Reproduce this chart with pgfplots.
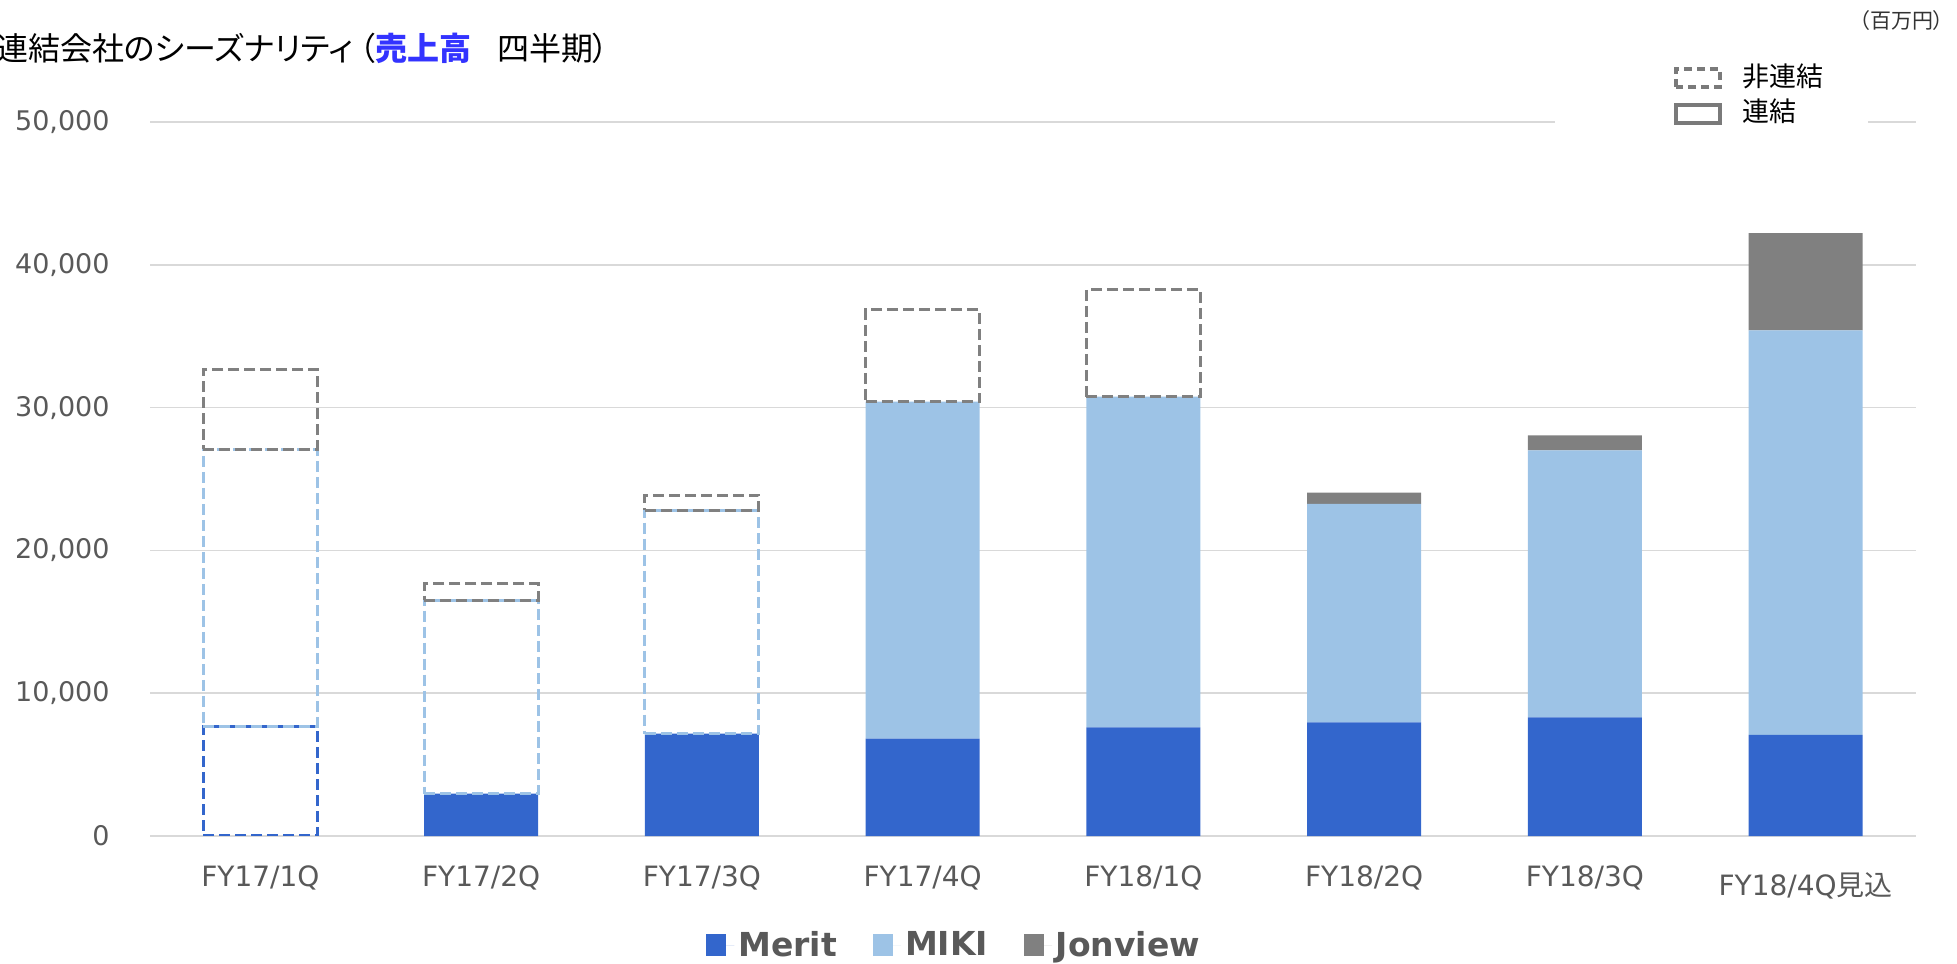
\documentclass[border=0pt]{standalone}
\usepackage{fontspec}
\setmainfont{DejaVu Sans}
\newfontfamily\jp[RawFeature=+palt]{Noto Sans CJK JP}
\usepackage{pgfplots}
\pgfplotsset{compat=1.18}

\definecolor{merit}{HTML}{3366CC}
\definecolor{miki}{HTML}{9DC3E6}
\definecolor{jonview}{HTML}{808080}
\definecolor{gridc}{HTML}{D9D9D9}
\definecolor{txt}{HTML}{595959}
\definecolor{ttlblue}{HTML}{3333FF}
\definecolor{keyc}{HTML}{7A7A7A}

% same frame for the main axis and the overlays with the dashed (non-consolidated) parts
\pgfplotsset{
  frame/.style={scale only axis, width=883pt, height=357pt,
    at={(75pt,63.5pt)}, anchor=south west,
    xmin=-0.5, xmax=7.5, ymin=0, ymax=50000,
    ybar stacked, bar width=57pt},
  dash box/.style={draw=#1, fill=none, line width=1.5pt, dash pattern=on 5.5pt off 2.5pt},
  hidden/.style={draw=none, fill=none},
  sq legend/.style={legend image code/.code={\path (0pt,0pt) -- (14pt,0pt); \fill[##1] (0pt,-5.5pt) rectangle (10pt,5.5pt);}},
}

\begin{document}
\begin{tikzpicture}
\useasboundingbox (0,0) rectangle (978.5pt,481.5pt);

\begin{axis}[frame,
  axis line style={draw=none},
  tick style={draw=none},
  ymajorgrids, grid style={gridc, line width=0.8pt},
  ytick={0,10000,20000,30000,40000,50000},
  scaled y ticks=false,
  /pgf/number format/.cd, 1000 sep={,}, assume math mode=true, /pgfplots/.cd,
  yticklabel style={anchor=east, inner sep=0pt, xshift=-20pt, text=txt, font=\fontsize{13.5}{16}\selectfont},
  xtick={0,...,7},
  xticklabels={FY17/1Q,FY17/2Q,FY17/3Q,FY17/4Q,FY18/1Q,FY18/2Q,FY18/3Q,\raisebox{-4.5pt}{FY18/4Q{\jp 見込}}},
  xticklabel style={anchor=base, inner sep=0pt, yshift=-25pt, text=txt, font=\fontsize{14}{16}\selectfont},
  legend columns=3,
  legend style={at={(0.456,-0.153)}, anchor=center, draw=none,
    font=\fontsize{16.5}{20}\selectfont\bfseries, text=txt,
    /tikz/every even column/.append style={column sep=16pt}},
]
% consolidated (solid) parts; 0 where the part was not yet consolidated
\addplot[fill=merit, draw=none, sq legend] coordinates {(0,0)(1,2970)(2,7170)(3,6820)(4,7600)(5,7950)(6,8300)(7,7080)};
\addplot[fill=miki, draw=none, sq legend] coordinates {(0,0)(1,0)(2,0)(3,23600)(4,23170)(5,15300)(6,18710)(7,28320)};
\addplot[fill=jonview, draw=none, sq legend] coordinates {(0,0)(1,0)(2,0)(3,0)(4,0)(5,790)(6,1050)(7,6820)};
\legend{Merit,MIKI,Jonview}
\end{axis}

% non-consolidated Merit
\begin{axis}[frame, hide axis]
\addplot[dash box=merit] coordinates {(0,7700)};
\end{axis}

% non-consolidated MIKI
\begin{axis}[frame, hide axis]
\addplot[hidden] coordinates {(0,7700)(1,2970)(2,7170)};
\addplot[dash box=miki] coordinates {(0,19400)(1,13550)(2,15650)};
\end{axis}

% non-consolidated Jonview
\begin{axis}[frame, hide axis]
\addplot[hidden] coordinates {(0,7700)(1,2970)(2,7170)(3,6820)(4,7600)};
\addplot[hidden] coordinates {(0,19400)(1,13550)(2,15650)(3,23600)(4,23170)};
\addplot[dash box=jonview] coordinates {(0,5600)(1,1140)(2,1040)(3,6470)(4,7520)};
\end{axis}

% title and unit
\node[anchor=west, inner sep=0pt, font=\jp\fontsize{16}{19}\selectfont] at (-2pt,457.5pt)
  {連結会社のシーズナリティ\hspace{0.2em}（{\color{ttlblue}\bfseries 売上高}\hspace{0.8em}四半期）};
\node[anchor=east, inner sep=0pt, text=black!80, font=\jp\fontsize{10.5}{12}\selectfont] at (972pt,471pt) {（百万円）};

% key for dashed / solid outline
\fill[white] (777.5pt,413pt) rectangle (934pt,452pt);
\draw[keyc, line width=1.6pt, dash pattern=on 4pt off 2.5pt] (838pt,438pt) rectangle (860pt,447pt);
\draw[keyc, line width=1.6pt] (838pt,420pt) rectangle (860pt,429pt);
\node[anchor=west, inner sep=0pt, font=\jp\fontsize{13.5}{16}\selectfont] at (871pt,443.3pt) {非連結};
\node[anchor=west, inner sep=0pt, font=\jp\fontsize{13.5}{16}\selectfont] at (871pt,426pt) {連結};
\end{tikzpicture}
\end{document}
